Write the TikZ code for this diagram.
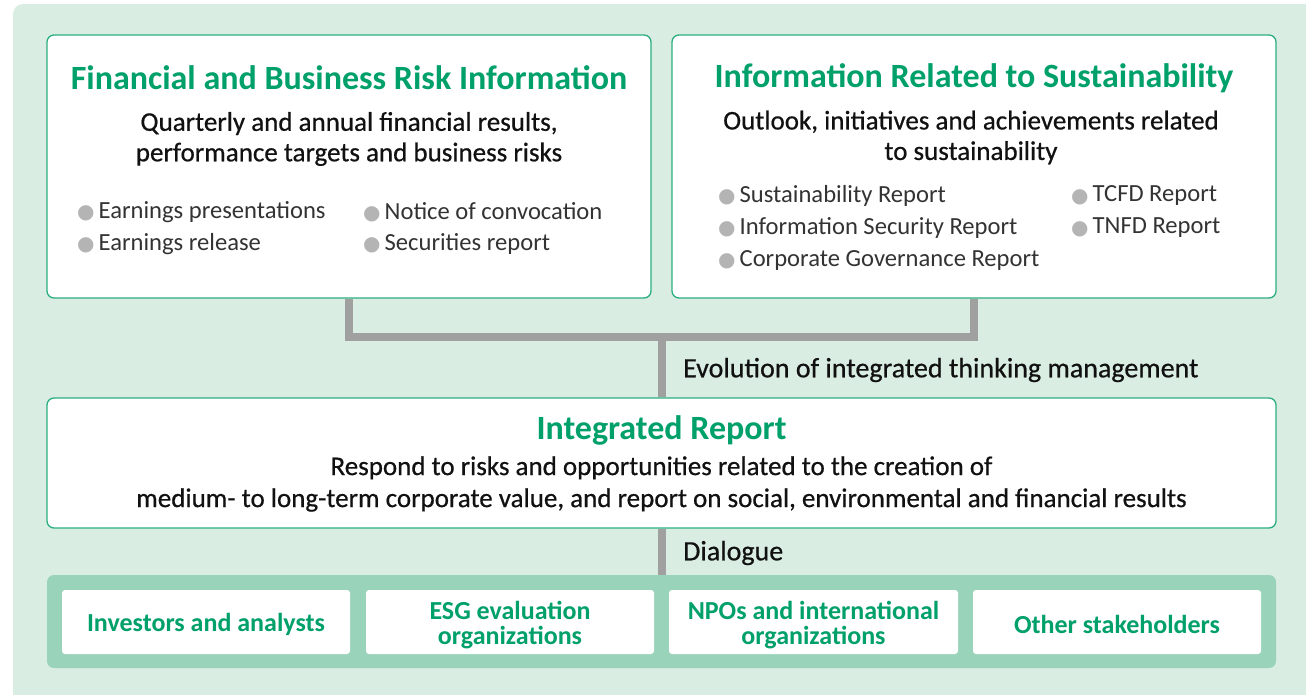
\documentclass[tikz,border=0pt]{standalone}
\usepackage{fontspec}
\setmainfont{Carlito}
\newfontfamily\dotfont{DejaVu Sans}
\newfontfamily\medfont[FakeBold=0.6]{Carlito}
\definecolor{bgg}{HTML}{DAEDE2}
\definecolor{brd}{HTML}{2AAE7F}
\definecolor{ttl}{HTML}{00A06B}
\definecolor{band}{HTML}{99D3B9}
\definecolor{conn}{HTML}{A0A0A0}
\definecolor{dotc}{HTML}{B4B4B4}
\definecolor{txt}{HTML}{111111}
\definecolor{itm}{HTML}{333333}
\newcommand{\bul}{{\dotfont\fontsize{20}{20}\selectfont\color{dotc}\raisebox{-0.3pt}{●}}\hspace{4pt}}
\begin{document}
\begin{tikzpicture}[x=1pt,y=-1pt,
  panel/.style={draw=brd,line width=1.3pt,fill=white,rounded corners=7pt,inner sep=0pt},
  sbox/.style={fill=white,rounded corners=3pt,inner sep=0pt,minimum width=288pt,minimum height=64pt},
  slab/.style={inner sep=0pt,align=center,text=ttl,font=\bfseries\fontsize{26}{25}\selectfont},
  ttlt/.style={text=ttl,font=\bfseries\fontsize{34}{38}\selectfont,inner sep=0pt},
  subt/.style={text=txt,font=\medfont\fontsize{27}{30.5}\selectfont,inner sep=0pt,align=center},
  item/.style={text=itm,font=\fontsize{24.6}{25}\selectfont,inner sep=0pt,anchor=west},
  cline/.style={draw=conn,line width=8pt,line cap=butt,line join=miter}]
\useasboundingbox (0,0) rectangle (1306,695);
\fill[bgg,rounded corners=10pt] (13,4) rectangle (1330,720);
% boxes
\node[panel,minimum width=604pt,minimum height=263pt] (fin) at (349,166.5) {};
\node[panel,minimum width=604pt,minimum height=263pt] (sus) at (974,166.5) {};
\node[panel,minimum width=1229pt,minimum height=130pt] (ir) at (661.5,463) {};
\node[fill=band,rounded corners=7pt,inner sep=0pt,minimum width=1229pt,minimum height=93pt] (bnd) at (661.5,621.5) {};
% connectors
\coordinate (jn) at (661.5,337);
\draw[cline] (fin.south) |- (jn) -| (sus.south);
\draw[cline] (jn) -- (ir.north);
\draw[cline] (ir.south) -- (bnd.north);
% left box text
\node[ttlt] (t1) at (349,78) {Financial and Business Risk Information};
\node[subt] (s1) at (349,139) {Quarterly and annual financial results,\\performance targets and business risks};
\node[item] (a1) at (77,212) {\bul Earnings presentations};
\node[item] (a2) at (77,244) {\bul Earnings release};
\node[item] (a3) at (363,212) {\bul Notice of convocation};
\node[item] (a4) at (363,244) {\bul Securities report};
% right box text
\node[ttlt] (t2) at (974,78) {Information Related to Sustainability};
\node[subt] (s2) at (971,137.5) {Outlook, initiatives and achievements related\\to sustainability};
\node[item] (b1) at (718,196) {\bul Sustainability Report};
\node[item] (b2) at (718,228) {\bul Information Security Report};
\node[item] (b3) at (718,260) {\bul Corporate Governance Report};
\node[item] (b4) at (1071,196) {\bul TCFD Report};
\node[item] (b5) at (1071,228) {\bul TNFD Report};
% middle
\node[subt,font=\medfont\fontsize{28}{30}\selectfont,anchor=west] (evo) at (683,370) {Evolution of integrated thinking management};
\node[ttlt] (t3) at (661.5,430) {Integrated Report};
\node[subt,font=\medfont\fontsize{27}{32}\selectfont] (s3) at (661.5,484) {Respond to risks and opportunities related to the creation of\\medium- to long-term corporate value, and report on social, environmental and financial results};
\node[subt,font=\medfont\fontsize{28}{30}\selectfont,anchor=west] (dlg) at (683,553) {Dialogue};
% stakeholders
\node[sbox] (k1) at (206,622) {};
\node[sbox] (k2) at (510,622) {};
\node[sbox,minimum width=289pt] (k3) at (813.5,622) {};
\node[sbox] (k4) at (1117,622) {};
\node[slab] (l1) at (206,624) {Investors and analysts};
\node[slab] (l2) at (510,625) {ESG evaluation\\organizations};
\node[slab] (l3) at (813.5,625) {NPOs and international\\organizations};
\node[slab] (l4) at (1117,624) {Other stakeholders};
\end{tikzpicture}
\end{document}
